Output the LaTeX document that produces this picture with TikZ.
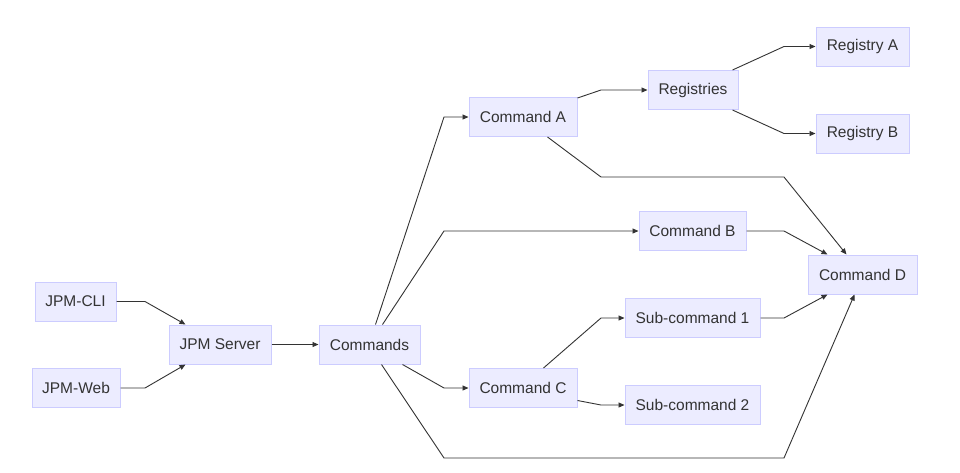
\documentclass[tikz,border=0pt]{standalone}
\usepackage{fontspec}
\setmainfont{Liberation Sans}
\usetikzlibrary{arrows.meta,calc}
\definecolor{nodefill}{HTML}{ECECFF}
\definecolor{nodeline}{HTML}{CCCCFF}
\definecolor{ink}{HTML}{333333}
\begin{document}
\begin{tikzpicture}[x=1pt,y=-1pt,
  box/.style={draw=nodeline,fill=nodefill,line width=1pt,minimum height=39pt,inner sep=0pt,
    text=ink,font=\fontsize{15.5pt}{18pt}\selectfont},
  arr/.style={draw=ink,line width=0.9pt,-{Triangle[length=6pt,width=5pt]}}]
\useasboundingbox[fill=white] (0,0) rectangle (960,472);
\node[box,minimum width=81pt] (cli) at (75.5,301.5) {JPM-CLI};
\node[box,minimum width=88pt] (web) at (76,388) {JPM-Web};
\node[box,minimum width=102pt] (srv) at (220,344.5) {JPM Server};
\node[box,minimum width=101pt] (cmds) at (369.5,344.5) {Commands};
\node[box,minimum width=108pt] (ca) at (523,117) {Command A};
\node[box,minimum width=108pt] (cc) at (523,388) {Command C};
\node[box,minimum width=90pt] (reg) at (693,90) {Registries};
\node[box,minimum width=93pt] (rega) at (862.5,46.5) {Registry A};
\node[box,minimum width=93pt] (regb) at (862.5,133.5) {Registry B};
\node[box,minimum width=107pt] (cb) at (692.5,231) {Command B};
\node[box,minimum width=109pt] (cd) at (862.5,274.5) {Command D};
\node[box,minimum width=135pt] (s1) at (692.5,318) {Sub-command 1};
\node[box,minimum width=135pt] (s2) at (692.5,405) {Sub-command 2};

\draw[arr] (cli.east) -- (145,301.5) -- ([xshift=17pt]srv.north west);
\draw[arr] (web.east) -- (145,388) -- ([xshift=17pt]srv.south west);
\draw[arr] (srv.east) -- (cmds.west);
\draw[arr] ([xshift=57pt]cmds.north west) -- (444,117) -- (ca.west);
\draw[arr] ([xshift=64pt]cmds.north west) -- (444,231) -- (cb.west);
\draw[arr] ([xshift=84pt]cmds.south west) -- (444,388) -- (cc.west);
\draw[arr] ([xshift=63pt]cmds.south west) -- (444,458) -- (784,458) -- ([xshift=47pt]cd.south west);
\draw[arr] ($(ca.north east)+(0,1)$) -- (601,90) -- (reg.west);
\draw[arr] ([xshift=85pt]reg.north west) -- (784,46.5) -- (rega.west);
\draw[arr] ([xshift=85pt]reg.south west) -- (784,133.5) -- (regb.west);
\draw[arr] ([xshift=79pt]ca.south west) -- (601,177) -- (784,177) -- ([xshift=39pt]cd.north west);
\draw[arr] (cb.east) -- (784,231) -- ([xshift=20pt]cd.north west);
\draw[arr] (s1.east) -- (784,318) -- ([xshift=20pt]cd.south west);
\draw[arr] ([xshift=75pt]cc.north west) -- (601,318) -- (s1.west);
\draw[arr] ($(cc.south east)+(0,-7.5)$) -- (601,405) -- (s2.west);
\end{tikzpicture}
\end{document}
